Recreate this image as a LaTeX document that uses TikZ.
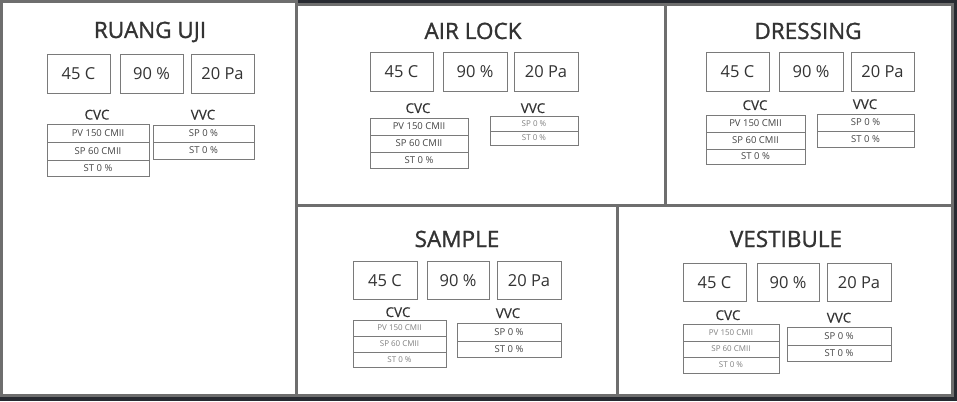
\documentclass[tikz,border=0pt]{standalone}
\usepackage{fontspec}
\setmainfont{Open Sans}
\newfontfamily\semititle[FakeBold=1.2]{Open Sans}
\newfontfamily\semilabel[FakeBold=0.3]{Open Sans}
\definecolor{bgdark}{HTML}{272A31}
\definecolor{panelgray}{HTML}{6E6E6E}
\definecolor{boxgray}{HTML}{7A7A7A}
\definecolor{txt}{HTML}{333333}
\definecolor{rowtxt}{HTML}{444444}
\definecolor{rowlight}{HTML}{808080}
\newcommand\cellbox[7]{\node[#1,minimum width={(#4-#3)*1pt},minimum height={(#6-#5)*1pt}] (#2) at ({(#3+#4)/2},{(#5+#6)/2}) {#7};}
\tikzset{
  panel/.style={draw=panelgray,line width=3pt,fill=white},
  roomtitle/.style={anchor=base,text=txt,inner sep=0pt,font=\semititle\fontsize{22.5}{22.5}\selectfont},
  valbox/.style={draw=boxgray,line width=0.9pt,inner sep=0pt,text=txt,text height=12pt,text depth=0pt,font=\fontsize{16.5}{16.5}\selectfont},
  grplabel/.style={anchor=base,text=txt,inner sep=0pt,font=\semilabel\fontsize{13.5}{13.5}\selectfont},
  rowbox/.style={draw=boxgray,line width=0.9pt,inner sep=0pt,text=rowtxt,text height=6.5pt,text depth=0pt,font=\fontsize{9.5}{9.5}\selectfont},
  rowsmall/.style={rowbox,text=rowlight,text height=5.6pt,font=\fontsize{8}{8}\selectfont}
}
\begin{document}
\begin{tikzpicture}[x=1pt,y=-1pt]
\useasboundingbox (0,0) rectangle (957,401);
\fill[bgdark] (0,0) rectangle (957,401);
% panels
\draw[panel] (1.5,1.5) rectangle (296.5,395.5);
\draw[panel] (296.5,4.5) rectangle (665.5,205.5);
\draw[panel] (665.5,4.5) rectangle (952.5,205.5);
\draw[panel] (296.5,205.5) rectangle (617.5,395.5);
\draw[panel] (617.5,205.5) rectangle (952.5,395.5);

% ---------- RUANG UJI ----------
\node[roomtitle] (ruT) at (150,38) {RUANG UJI};
\cellbox{valbox}{ruA}{47}{110}{54}{93}{45 C}
\cellbox{valbox}{ruB}{120}{183}{54}{93}{90 \%}
\cellbox{valbox}{ruC}{191}{254}{54}{93}{20 Pa}
\node[grplabel] (ruCVC) at (97,119.5) {CVC};
\node[grplabel] (ruVVC) at (203,119.5) {VVC};
\cellbox{rowbox}{ruC1}{47}{149}{124}{142}{PV 150 CMII}
\cellbox{rowbox}{ruC2}{47}{149}{142}{160}{SP 60 CMII}
\cellbox{rowbox}{ruC3}{47}{149}{160}{176}{ST 0 \%}
\cellbox{rowbox}{ruV1}{153}{254}{125}{142}{SP 0 \%}
\cellbox{rowbox}{ruV2}{153}{254}{142}{159}{ST 0 \%}

% ---------- AIR LOCK ----------
\node[roomtitle] (alT) at (473,39) {AIR LOCK};
\cellbox{valbox}{alA}{370}{433}{52}{91}{45 C}
\cellbox{valbox}{alB}{443}{507}{52}{91}{90 \%}
\cellbox{valbox}{alC}{514}{578}{52}{91}{20 Pa}
\node[grplabel] (alCVC) at (418,113) {CVC};
\node[grplabel] (alVVC) at (533,113) {VVC};
\cellbox{rowbox}{alC1}{370}{468}{118}{135}{PV 150 CMII}
\cellbox{rowbox}{alC2}{370}{468}{135}{152}{SP 60 CMII}
\cellbox{rowbox}{alC3}{370}{468}{152}{168}{ST 0 \%}
\cellbox{rowsmall}{alV1}{490}{578}{116}{131}{SP 0 \%}
\cellbox{rowsmall}{alV2}{490}{578}{131}{145}{ST 0 \%}

% ---------- DRESSING ----------
\node[roomtitle] (drT) at (808,39) {DRESSING};
\cellbox{valbox}{drA}{706}{769}{52}{91}{45 C}
\cellbox{valbox}{drB}{779}{843}{52}{91}{90 \%}
\cellbox{valbox}{drC}{851}{914}{52}{91}{20 Pa}
\node[grplabel] (drCVC) at (755,110) {CVC};
\node[grplabel] (drVVC) at (865,109) {VVC};
\cellbox{rowbox}{drC1}{706}{805}{115}{132}{PV 150 CMII}
\cellbox{rowbox}{drC2}{706}{805}{132}{149}{SP 60 CMII}
\cellbox{rowbox}{drC3}{706}{805}{149}{164}{ST 0 \%}
\cellbox{rowbox}{drV1}{817}{914}{114}{131}{SP 0 \%}
\cellbox{rowbox}{drV2}{817}{914}{131}{147}{ST 0 \%}

% ---------- SAMPLE ----------
\node[roomtitle] (saT) at (457,247) {SAMPLE};
\cellbox{valbox}{saA}{353}{417}{261}{299}{45 C}
\cellbox{valbox}{saB}{427}{489}{261}{299}{90 \%}
\cellbox{valbox}{saC}{497}{561}{261}{299}{20 Pa}
\node[grplabel] (saCVC) at (398,317) {CVC};
\node[grplabel] (saVVC) at (508,318) {VVC};
\cellbox{rowsmall}{saC1}{353}{446}{320}{336}{PV 150 CMII}
\cellbox{rowsmall}{saC2}{353}{446}{336}{352}{SP 60 CMII}
\cellbox{rowsmall}{saC3}{353}{446}{352}{367}{ST 0 \%}
\cellbox{rowbox}{saV1}{457}{561}{323}{341}{SP 0 \%}
\cellbox{rowbox}{saV2}{457}{561}{341}{357}{ST 0 \%}

% ---------- VESTIBULE ----------
\node[roomtitle] (veT) at (786,247) {VESTIBULE};
\cellbox{valbox}{veA}{683}{746}{263}{301}{45 C}
\cellbox{valbox}{veB}{757}{819}{263}{301}{90 \%}
\cellbox{valbox}{veC}{827}{891}{263}{301}{20 Pa}
\node[grplabel] (veCVC) at (728,320) {CVC};
\node[grplabel] (veVVC) at (839,322.5) {VVC};
\cellbox{rowsmall}{veC1}{683}{779}{324}{341}{PV 150 CMII}
\cellbox{rowsmall}{veC2}{683}{779}{341}{357}{SP 60 CMII}
\cellbox{rowsmall}{veC3}{683}{779}{357}{373}{ST 0 \%}
\cellbox{rowbox}{veV1}{787}{891}{327}{345}{SP 0 \%}
\cellbox{rowbox}{veV2}{787}{891}{345}{361}{ST 0 \%}
\end{tikzpicture}
\end{document}
